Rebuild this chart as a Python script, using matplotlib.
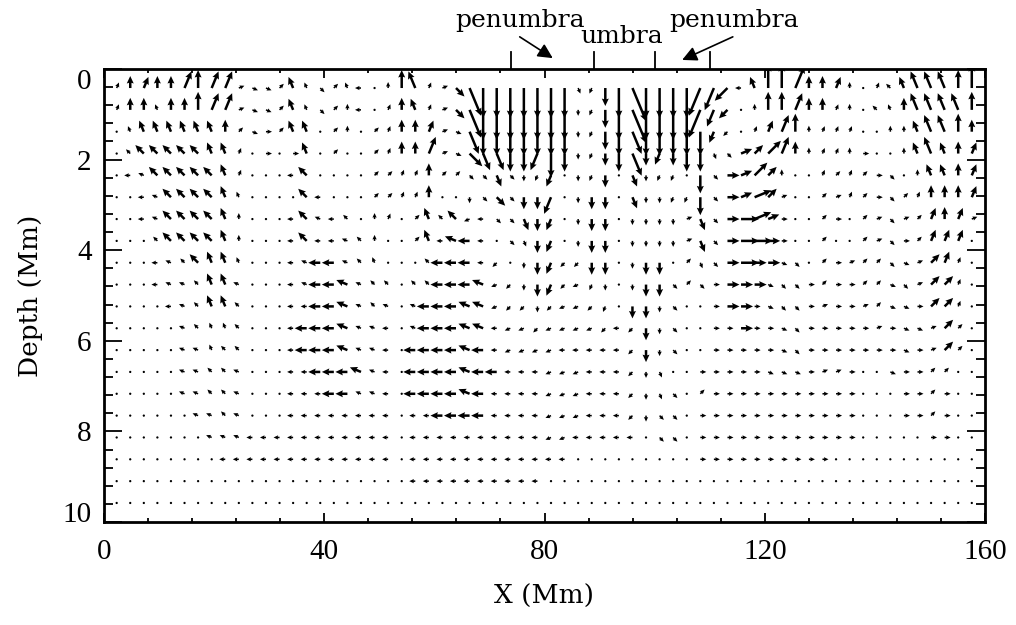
import numpy as np
import matplotlib
matplotlib.use("Agg")
import matplotlib.pyplot as plt
import matplotlib.transforms as mtransforms
from matplotlib.ticker import MultipleLocator

# --------------------------------------------------
# FLOW MAP
# --------------------------------------------------

# arrow grid (Mm)
x_mm = np.linspace(2.3, 157.6, 64)
depth_mm = np.linspace(0.42, 9.58, 20)

# one string per depth row, one character per column (spaces only group columns)
# direction: hex digit in 22.5 deg steps, 0 = right, 4 = up, 8 = left, c = down
directions = [
    "34344343 31ff255e 25804453 1edccccc ccdbccdc cccbba85 44344340 36555544",
    "34454443 31ff255e 24803453 1edccccc cccbccdc cccbba04 44344340 65455554",
    "05555555 42f02550 24023443 1fdccccc cccbccdc ccccba03 33443330 04455544",
    "06666665 53000050 20023443 1feddccb cccbccdc bcccde12 23443340 00455543",
    "08766666 53008860 00022334 22eedecb b0cbc0dc bb0ce012 24003232 0e045543",
    "00876666 55000868 00022334 00ceeecc b0ccc0dc cbbce011 21002132 0e234443",
    "00876666 54000867 86043025 6698eedc b3ccc0cc cc1de001 10002002 1e123431",
    "00066666 54008868 87640025 87880edc b3ccc0cc cc1de000 00002002 1e023330",
    "00087665 55000878 87650006 8888a0cc baacc0cc c02de000 0fe02012 2ef12330",
    "00087765 57000878 87766066 88879acc ba9bc0cc ce2e0000 fee02002 2fe12230",
    "00008765 56000888 87767078 88779aac a99ab0cc ce000000 fee01001 2ff02230",
    "00000765 56008888 87778878 8877899a 9999a8ac ce000000 0fe00000 10ff1220",
    "00000775 66008888 87778888 88788999 988888ac ce000000 0fe00000 00f01220",
    "00000776 67008888 88778088 88788888 999888ac d0000000 fff01100 0f002200",
    "00000776 67000888 88778088 88788888 999888ac de020000 00000000 00002000",
    "00000777 67888888 88888088 88888888 999888ac ee000000 00000000 00002000",
    "00000007 77888888 88888088 88888888 99888880 ee000000 00000000 00000000",
    "00000000 88888888 88888088 88888888 88000000 00000000 00000000 00000000",
    "00000000 00000000 00000088 88888888 00000000 00000000 00000000 00000000",
    "00000000 00000000 00000000 00000000 00000000 00000000 00000000 00000000",
]

# speed class: 0 = dot, 6 = longest downflow arrows
speeds = [
    "12222333 31111211 11101331 12555555 55113565 55554312 44422210 11233334",
    "12212233 31111211 11101221 12555555 55113565 55553201 33322110 11233333",
    "01222222 21111220 11011222 11444444 44113444 44442101 23311110 01123332",
    "01222222 21010120 10011223 11333333 43112342 22331122 33211111 00123222",
    "01122222 21000120 00011112 11112111 20112021 11031223 21001111 11012222",
    "00112222 21000021 00011112 00112122 30122021 11131223 21001111 11112222",
    "00112222 21000121 11011012 12111122 20122011 11121233 21001101 11112221",
    "00012222 21000121 11110012 12210112 20122011 11121233 21001001 11112220",
    "00011122 21000112 21110001 22211012 21122012 20111232 21101111 11112210",
    "00011112 21000112 22111011 22221112 21111012 21111222 11111111 11112210",
    "00001112 21000112 22111012 22221111 11111022 11001221 11111111 11112210",
    "00000111 11000122 22111012 22221111 11111112 11001121 11111111 11111210",
    "00000111 11000122 22111022 22221111 11111112 11001111 11111111 11111210",
    "00000111 11000112 22211022 22222111 11111111 10011111 11111110 01111100",
    "00000111 11000111 22111022 22221111 11111111 11011111 11111110 00111100",
    "00000011 11000111 11111011 22221111 11111111 11011111 11111110 00111100",
    "00000001 11111111 11111011 11111111 11111110 11011111 11111110 00001100",
    "00000000 11111111 11111011 11111111 11000000 00011111 11111000 00000000",
    "00000000 00000000 00000011 11111111 00000000 00000000 00000000 00000000",
    "00000000 00000000 00000000 00000000 00000000 00000000 00000000 00000000",
]

# axis ticks
x_ticks = [0, 40, 80, 120, 160]
y_ticks = [0, 2, 4, 6, 8, 10]

# sunspot structure marked above the frame
region_edges = [74, 89, 100, 110]
region_names = ["penumbra", "umbra", "penumbra"]

# --------------------------------------------------
# VECTORS
# --------------------------------------------------

dir_code = np.array([[int(c, 16) for c in row.replace(" ", "")] for row in directions])
speed = np.array([[int(c) for c in row.replace(" ", "")] for row in speeds], dtype=float)

angle = np.deg2rad(dir_code * 22.5)
u = speed * np.cos(angle)
v = speed * np.sin(angle)
X, Y = np.meshgrid(x_mm, depth_mm)

# --------------------------------------------------
# PLOT
# --------------------------------------------------

fig = plt.figure(figsize=(10.16, 6.25), dpi=100)
ax = fig.add_axes([104 / 1016, 1 - 522 / 625, 881 / 1016, 453 / 625])

ax.quiver(
    X, Y, u, v,
    angles="uv",
    pivot="tail",
    units="dots",
    width=2.5,
    scale_units="dots",
    scale=1 / 6.0,
    headwidth=2.8,
    headlength=3.0,
    headaxislength=2.7,
    minshaft=1.3,
    minlength=1.0,
    color="black",
)

ax.set_xticks(x_ticks)
ax.set_yticks(y_ticks)
ax.xaxis.set_minor_locator(MultipleLocator(8))
ax.yaxis.set_minor_locator(MultipleLocator(0.4))

# limits after the ticks, so set_yticks cannot widen them
ax.set_xlim(0, 160)
ax.set_ylim(10, 0)

ax.tick_params(axis="x", which="major", direction="in", top=True, length=6.5, width=1.3, pad=12)
ax.tick_params(axis="x", which="minor", direction="in", top=True, length=3.2, width=1.3)
ax.tick_params(axis="y", which="major", direction="in", right=True, length=13, width=1.3, pad=9)
ax.tick_params(axis="y", which="minor", direction="in", right=True, length=6.5, width=1.3)

for sp in ax.spines.values():
    sp.set_linewidth(2)

for lab in ax.get_xticklabels() + ax.get_yticklabels():
    lab.set_fontfamily("Liberation Serif")
    lab.set_fontsize(21)

# end labels sit inside the frame, as in the original
yticks = ax.yaxis.get_major_ticks()
yticks[0].label1.set_verticalalignment("top")
yticks[-1].label1.set_verticalalignment("baseline")

ax.set_xlabel("X (Mm)", fontfamily="DejaVu Serif", fontsize=19, labelpad=14)
ax.set_ylabel("Depth (Mm)", fontfamily="DejaVu Serif", fontsize=19, labelpad=14)

# --------------------------------------------------
# UMBRA / PENUMBRA MARKS
# --------------------------------------------------

trans = mtransforms.blended_transform_factory(ax.transData, ax.transAxes)

for xm in region_edges:
    ax.plot([xm, xm], [1.0, 1.0375], transform=trans, color="black", lw=1.3, clip_on=False)

ax.text(75.6, 1.093, region_names[0], transform=trans, ha="center", va="baseline",
        fontfamily="DejaVu Serif", fontsize=18)
ax.text(94.1, 1.057, region_names[1], transform=trans, ha="center", va="baseline",
        fontfamily="DejaVu Serif", fontsize=18)
ax.text(114.4, 1.093, region_names[2], transform=trans, ha="center", va="baseline",
        fontfamily="DejaVu Serif", fontsize=18)

arrow_style = dict(arrowstyle="-|>", mutation_scale=22, color="black", lw=1.2, shrinkA=0, shrinkB=0)
ax.annotate("", xy=(81.5, 1.024), xytext=(75.5, 1.071), xycoords=trans, textcoords=trans,
            arrowprops=arrow_style, annotation_clip=False)
ax.annotate("", xy=(105.0, 1.020), xytext=(114.2, 1.071), xycoords=trans, textcoords=trans,
            arrowprops=arrow_style, annotation_clip=False)

fig.savefig("out.png", dpi=100)
plt.close(fig)
